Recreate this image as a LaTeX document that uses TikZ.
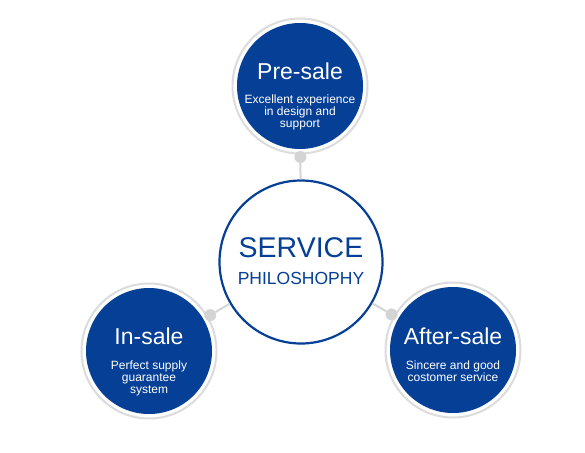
\documentclass[tikz,border=0pt]{standalone}
\usepackage{fontspec}
\setmainfont{Liberation Sans}
\usetikzlibrary{calc}
\definecolor{deep-blue}{HTML}{063F96}
\definecolor{ring-grey}{HTML}{DCDCDC}
\definecolor{link-grey}{HTML}{D4D4D4}

\begin{document}
\begin{tikzpicture}[x=1pt, y=-1pt,
    petal/.style={circle, fill=deep-blue, inner sep=0pt, minimum size=126pt},
    halo/.style={circle, draw=ring-grey, line width=2pt, inner sep=0pt, minimum size=135pt},
    knob/.style={circle, fill=link-grey, inner sep=0pt, minimum size=12pt},
    link/.style={draw=link-grey, line width=2pt},
    title/.style={text=white, font=\fontsize{23}{26}\selectfont, anchor=base},
    blurb/.style={text=white, font=\fontsize{12}{12}\selectfont, align=center, anchor=base}]
  \fill[white] (0,0) rectangle (585,452);
  \useasboundingbox (0,0) rectangle (585,452);
  % centre circle
  \node[circle, draw=deep-blue, line width=2.2pt, fill=white, inner sep=0pt,
        minimum size=163pt] (svc) at (301,262) {};
  \node[text=deep-blue, font=\fontsize{28.5}{32}\selectfont, anchor=base]
        (svcTitle) at ([yshift=5pt]svc.center) {SERVICE};
  \node[text=deep-blue, font=\fontsize{17.5}{20}\selectfont, anchor=base]
        (svcSub) at ([yshift=-22pt]svc.center) {PHILOSHOPHY};
  % three stages
  \node[halo] (preRing) at (300,86) {};
  \node[petal] (pre) at (300,86) {};
  \node[halo] (insRing) at (149,351) {};
  \node[petal] (ins) at (149,351) {};
  \node[halo] (aftRing) at (453,350) {};
  \node[petal] (aft) at (453,350) {};
  % base of a blurb is its last line
  \node[title] (preTitle) at ([yshift=7pt]pre.center) {Pre-sale};
  \node[blurb] (preText) at ([yshift=-41pt]pre.center)
        {Excellent experience\\in design and\\support};
  \node[title] (insTitle) at ([yshift=7pt]ins.center) {In-sale};
  \node[blurb] (insText) at ([yshift=-42pt]ins.center)
        {Perfect supply\\guarantee\\system};
  \node[title] (aftTitle) at ([yshift=6pt]aft.center) {After-sale};
  \node[blurb] (aftText) at ([yshift=-31pt]aft.center)
        {Sincere and good\\costomer service};
  % connectors
  \node[knob] (preDot) at ($(pre.center)!71pt!(svc.center)$) {};
  \node[knob] (insDot) at ($(ins.center)!71pt!(svc.center)$) {};
  \node[knob] (aftDot) at ($(aft.center)!71pt!(svc.center)$) {};
  \draw[link] (preDot) -- (svc);
  \draw[link] (insDot) -- (svc);
  \draw[link] (aftDot) -- (svc);
\end{tikzpicture}
\end{document}
